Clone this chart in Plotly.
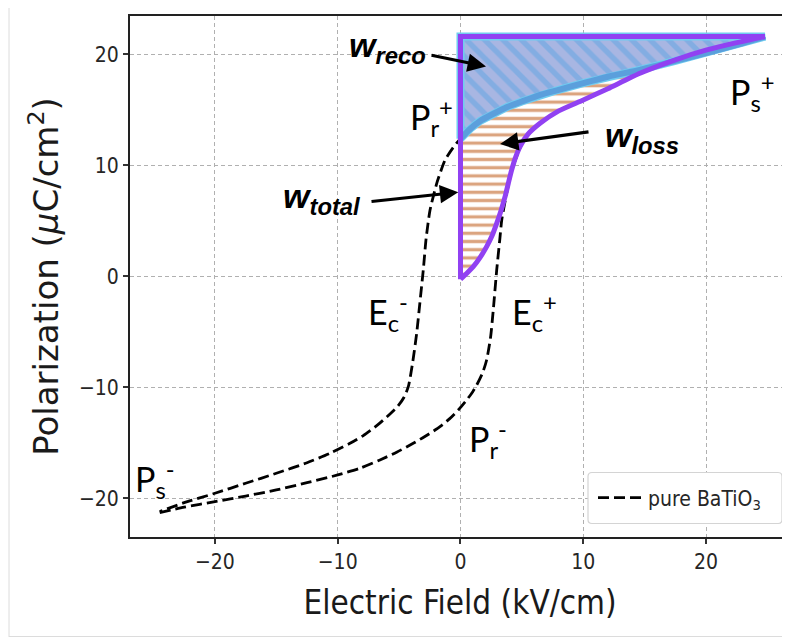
import plotly.graph_objects as go

# ---------------- data ----------------
# descending branch of the pure BaTiO3 loop (from +Ps to -Ps)
desc_E = [24.8, 22.5, 20.0, 17.5, 14.6, 12.0, 10.0, 8.0, 6.5, 5.0, 3.8, 2.6, 1.6, 0.8, 0.0,
          -0.6, -1.26, -1.9, -2.48, -2.8, -3.03, -3.3, -3.57, -3.9, -4.25, -4.6, -5.1, -5.74,
          -6.7, -7.92, -9.0, -10.63, -12.5, -15.0, -17.5, -20.0, -22.5, -24.5]
desc_P = [21.6, 20.85, 20.1, 19.4, 18.6, 17.98, 17.4, 16.8, 16.35, 15.75, 15.25, 14.6, 14.0, 13.3, 12.4,
          11.6, 10.46, 8.5, 5.97, 3.4, 0.57, -2.3, -5.14, -7.8, -9.95, -10.9, -11.7, -12.4,
          -13.35, -14.35, -15.05, -15.95, -16.8, -17.75, -18.65, -19.55, -20.4, -21.2]
# ascending branch (from -Ps to +Ps)
asc_E = [-24.5, -22.5, -20.0, -17.5, -15.0, -12.5, -10.0, -8.2, -6.56, -5.2, -3.85, -2.7, -1.67, -0.9,
         -0.18, 0.5, 1.0, 1.32, 1.8, 2.13, 2.45, 2.67, 2.95, 3.2, 3.36, 3.76, 4.2, 4.9, 5.6, 6.5, 8.0,
         10.0, 12.0, 14.6, 17.5, 20.0, 22.5, 24.8]
asc_P = [-21.3, -20.8, -20.3, -19.8, -19.25, -18.6, -17.9, -17.3, -16.55, -15.85, -15.05, -14.3, -13.55,
         -12.85, -12.05, -11.15, -10.4, -9.8, -8.7, -7.54, -5.5, -3.04, 0.57, 3.3, 5.07, 7.48, 9.6,
         11.7, 12.9, 13.8, 15.0, 15.9, 16.9, 18.3, 19.5, 20.4, 21.05, 21.6]
# first charging curve from the origin (purple, W_total boundary)
chg_E = [0.0, 0.5, 1.04, 1.6, 2.13, 2.55, 2.95, 3.3, 3.63, 3.9, 4.17, 4.45, 4.85, 5.5, 6.48, 8.0,
         10.0, 12.0, 14.62, 17.5, 20.06, 22.5, 24.8]
chg_P = [-0.27, 0.25, 0.86, 1.7, 2.67, 3.6, 4.77, 5.9, 7.17, 8.4, 9.58, 10.6, 11.68, 12.8, 13.78,
         14.9, 15.88, 16.9, 18.29, 19.5, 20.39, 21.05, 21.6]
P_max = 21.6

x_ticks = [-20, -10, 0, 10, 20]
y_ticks = [-20, -10, 0, 10, 20]
series_name = "pure BaTiO<sub>3</sub>"

# ---------------- derived paths ----------------
k0 = desc_E.index(0.0)
dis_E = desc_E[:k0 + 1]          # discharge part (E >= 0)
dis_P = desc_P[:k0 + 1]
Pr_plus = dis_P[-1]

# W_reco polygon: vertical at E=0 from Pr+ to Pmax, top line, back along discharge curve
reco_E = [0.0, 0.0] + dis_E
reco_P = [Pr_plus, P_max] + dis_P
# W_loss polygon: origin -> Pr+ -> discharge curve (reversed) -> charging curve back
loss_E = [chg_E[0]] + dis_E[::-1] + chg_E[::-1]
loss_P = [chg_P[0]] + dis_P[::-1] + chg_P[::-1]
# W_total straight edges (purple)
edge_E = [chg_E[0], 0.0, chg_E[-1]]
edge_P = [chg_P[0], P_max, P_max]

DASH = "11px,5px"
DASHLINE = dict(color="black", width=2.8, dash=DASH, shape="spline", smoothing=0.6)
fig = go.Figure()

fig.add_trace(go.Scatter(x=desc_E, y=desc_P, mode="lines", name=series_name, legendgroup="b",
                         line=DASHLINE, showlegend=True))
fig.add_trace(go.Scatter(x=asc_E, y=asc_P, mode="lines", name=series_name, legendgroup="b",
                         line=DASHLINE, showlegend=False))

fig.add_trace(go.Scatter(x=loss_E, y=loss_P, mode="lines", fill="toself",
                         fillcolor="white", line=dict(width=0), showlegend=False,
                         fillpattern=dict(shape="-", fgcolor="#b84a00", bgcolor="white",
                                          size=8.2, solidity=0.4)))
fig.add_trace(go.Scatter(x=reco_E, y=reco_P, mode="lines", fill="toself",
                         fillcolor="#a8b6e2", line=dict(width=8, color="#70ccf0"), showlegend=False,
                         fillpattern=dict(shape="\\", fgcolor="#5da4e2", bgcolor="#a8b6e2",
                                          size=13, solidity=0.42)))
fig.add_trace(go.Scatter(x=dis_E, y=dis_P, mode="lines", showlegend=False,
                         line=dict(width=6, color="#5b9fdc", shape="spline", smoothing=0.6)))
fig.add_trace(go.Scatter(x=edge_E, y=edge_P, mode="lines", showlegend=False,
                         line=dict(width=5, color="#9141f2")))
fig.add_trace(go.Scatter(x=chg_E, y=chg_P, mode="lines", showlegend=False,
                         line=dict(width=5, color="#9141f2", shape="spline", smoothing=0.6)))

# ---------------- annotations ----------------
ann = []
WFONT = dict(family="Liberation Sans, Arial, sans-serif", size=34, color="black")
PFONT = dict(family="Lato, Open Sans, sans-serif", size=34, color="black")

def label(x, y, text, font):
    ann.append(dict(x=x, y=y, xref="x", yref="y", text=text, showarrow=False,
                    font=font, xanchor="center", yanchor="middle"))

def arrow(x, y, ax, ay):
    ann.append(dict(x=x, y=y, ax=ax, ay=ay, xref="x", yref="y", axref="x", ayref="y",
                    text="", showarrow=True, arrowhead=2, arrowsize=1.15, arrowwidth=3.2,
                    arrowcolor="black", standoff=0, startstandoff=0))

label(-5.95, 20.6, "<b><i>w<sub>reco</sub></i></b>", WFONT)
label(14.75, 12.5, "<b><i>w<sub>loss</sub></i></b>", WFONT)
label(-11.3, 7.0, "<b><i>w<sub>total</sub></i></b>", WFONT)
arrow(2.08, 18.9, -2.48, 19.94)
arrow(3.22, 11.92, 10.55, 13.03)
arrow(-0.18, 7.57, -7.37, 6.72)

label(-2.36, 14.3, "P<sub>r</sub><sup>+</sup>", PFONT)
label(23.79, 16.6, "P<sub>s</sub><sup>+</sup>", PFONT)
label(-5.87, -3.3, "E<sub>c</sub><sup>-</sup>", PFONT)
label(6.03, -3.3, "E<sub>c</sub><sup>+</sup>", PFONT)
label(2.2, -14.75, "P<sub>r</sub><sup>-</sup>", PFONT)
label(-24.85, -18.3, "P<sub>s</sub><sup>-</sup>", PFONT)

# page is shown with an 8px body offset: screenshot px -> paper coords
def px2paper_x(px):
    return (px - 130) / 660.0
def px2paper_y(py):
    return (537 - py) / 521.0

x0, x1 = px2paper_x(588), px2paper_x(782)
y0, y1 = px2paper_y(523.5), px2paper_y(472.5)
r = 4
rx, ry = r / 660.0, r / 521.0
path = (f"M {x0+rx},{y0} L {x1-rx},{y0} Q {x1},{y0} {x1},{y0+ry} L {x1},{y1-ry} "
        f"Q {x1},{y1} {x1-rx},{y1} L {x0+rx},{y1} Q {x0},{y1} {x0},{y1-ry} "
        f"L {x0},{y0+ry} Q {x0},{y0} {x0+rx},{y0} Z")

shapes = [
    dict(type="path", path=path, xref="paper", yref="paper", fillcolor="white",
         line=dict(color="#d4d4d4", width=1.2), layer="above"),
    # faint border of the figure image
    dict(type="line", xref="paper", yref="paper", x0=px2paper_x(9), x1=px2paper_x(9),
         y0=px2paper_y(637), y1=px2paper_y(8), line=dict(color="#dcdcdc", width=1)),
    dict(type="line", xref="paper", yref="paper", x0=px2paper_x(9), x1=px2paper_x(790),
         y0=px2paper_y(636.5), y1=px2paper_y(636.5), line=dict(color="#dcdcdc", width=1)),
]

COND = "DejaVu Sans Condensed, DejaVu Sans, sans-serif"
TICKFONT = dict(family=COND, size=21, color="#262626")

fig.update_layout(
    width=790, height=639,
    margin=dict(l=122, r=8, t=8, b=110),
    paper_bgcolor="white", plot_bgcolor="white",
    annotations=ann, shapes=shapes,
    legend=dict(x=px2paper_x(593), y=px2paper_y(498), xanchor="left", yanchor="middle",
                bgcolor="rgba(0,0,0,0)", borderwidth=0, itemwidth=45,
                font=dict(family=COND, size=21, color="#262626")),
    xaxis=dict(range=[-26.92, 26.84], tickvals=x_ticks, showgrid=True, gridcolor="#b0b0b0",
               griddash="4px,3px", gridwidth=1, zeroline=False, showline=True, mirror=True,
               linecolor="#222222", linewidth=1.8, ticks="outside", ticklen=5, tickwidth=1.5,
               tickcolor="#333333", tickfont=TICKFONT, automargin=False,
               title=dict(text="Electric Field (kV/cm)", standoff=18,
                          font=dict(family=COND, size=33, color="#1a1a1a"))),
    yaxis=dict(range=[-23.49, 23.45], tickvals=y_ticks, showgrid=True, gridcolor="#b0b0b0",
               griddash="4px,3px", gridwidth=1, zeroline=False, showline=True, mirror=False,
               linecolor="#222222", linewidth=1.8, ticks="outside", ticklen=5, tickwidth=1.5,
               tickcolor="#333333", tickfont=TICKFONT, automargin=False,
               title=dict(text="Polarization (<i>\u03bc</i>C/cm<sup>2</sup>)", standoff=10,
                          font=dict(family="DejaVu Sans, sans-serif", size=34, color="#1a1a1a"))),
)

fig.write_html("out.html")
